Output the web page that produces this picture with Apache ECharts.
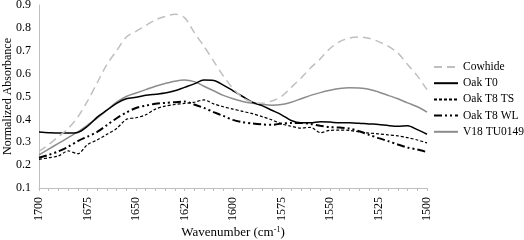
<!DOCTYPE html>
<html><head><meta charset="utf-8">
<script src="https://cdn.jsdelivr.net/npm/echarts@6/dist/echarts.min.js"></script>
<style>html,body{margin:0;padding:0;background:#fff}#c{width:524px;height:240px}</style>
</head><body><div id="c"></div>
<script>
var seriesNames = ['Cowhide', 'Oak T0', 'Oak T8 TS', 'Oak T8 WL', 'V18 TU0149'];
var xTicks = [1700, 1675, 1650, 1625, 1600, 1575, 1550, 1525, 1500];
var yTicks = [0.1, 0.2, 0.3, 0.4, 0.5, 0.6, 0.7, 0.8, 0.9];

var wavenumbers = [1700,1695,1690,1685,1680,1675,1670,1665,1660,1655,1650,1645,1640,1635,1630,1625,1620,1615,1610,1605,1600,1595,1590,1585,1580,1575,1570,1565,1560,1555,1550,1545,1540,1535,1530,1525,1520,1515,1510,1505,1500];

var cowhide = [0.26,0.29,0.325,0.36,0.41,0.48,0.56,0.64,0.70,0.76,0.785,0.81,0.835,0.85,0.86,0.845,0.78,0.72,0.655,0.59,0.535,0.495,0.475,0.47,0.48,0.50,0.54,0.58,0.625,0.665,0.71,0.74,0.755,0.76,0.755,0.74,0.72,0.69,0.64,0.59,0.53];
var oakT0 = [0.345,0.342,0.34,0.34,0.343,0.37,0.41,0.44,0.47,0.49,0.497,0.505,0.51,0.515,0.525,0.54,0.555,0.572,0.57,0.55,0.525,0.5,0.475,0.46,0.44,0.42,0.395,0.385,0.385,0.39,0.388,0.385,0.385,0.383,0.38,0.378,0.373,0.37,0.372,0.355,0.335];
var oakT8TS = [0.225,0.232,0.24,0.262,0.25,0.29,0.31,0.335,0.36,0.4,0.407,0.42,0.445,0.458,0.465,0.47,0.475,0.485,0.468,0.455,0.445,0.435,0.425,0.412,0.398,0.38,0.37,0.362,0.365,0.342,0.352,0.353,0.352,0.345,0.34,0.337,0.332,0.328,0.32,0.31,0.297];
var oakT8WL = [0.232,0.245,0.26,0.28,0.305,0.325,0.345,0.375,0.405,0.43,0.45,0.46,0.468,0.472,0.475,0.478,0.465,0.45,0.432,0.415,0.398,0.388,0.382,0.378,0.376,0.382,0.384,0.384,0.38,0.372,0.366,0.364,0.36,0.348,0.333,0.318,0.305,0.29,0.277,0.268,0.257];
var v18 = [0.245,0.27,0.295,0.32,0.345,0.375,0.405,0.44,0.475,0.5,0.515,0.53,0.545,0.557,0.567,0.572,0.565,0.545,0.525,0.505,0.49,0.478,0.47,0.465,0.462,0.465,0.475,0.49,0.505,0.517,0.527,0.535,0.538,0.537,0.532,0.52,0.505,0.49,0.472,0.455,0.432];

var values = [cowhide, oakT0, oakT8TS, oakT8WL, v18];
var styles = [
  {color:'#bfbfbf', width:1.5, type:[8,5]},
  {color:'#000000', width:1.5, type:'solid'},
  {color:'#000000', width:1.2, type:[3,2]},
  {color:'#000000', width:2, type:[8,3,2,3,2,3]},
  {color:'#8c8c8c', width:1.5, type:'solid'}
];
function pairs(arr){ return wavenumbers.map(function(w,i){ return [w, arr[i]]; }); }

var serif = '"Liberation Serif","Times New Roman",serif';
var chart = echarts.init(document.getElementById('c'));
chart.setOption({
  animation:false,
  textStyle:{fontFamily:serif},
  grid:{left:39, right:97, top:5, bottom:52, containLabel:false, outerBoundsMode:'none'},
  legend:{
    orient:'vertical', left:428, top:56, itemWidth:24, itemHeight:14, itemGap:4.2,
    itemStyle:{opacity:0},
    textStyle:{fontFamily:serif, fontSize:11.5, color:'#000'},
    data: seriesNames
  },
  xAxis:{
    type:'value', inverse:true, min:1500, max:1700, interval:25,
    axisLine:{show:true, lineStyle:{color:'#bfbfbf', width:1}},
    axisTick:{show:true, inside:false, length:3, lineStyle:{color:'#bfbfbf'}},
    minorTick:{show:true, splitNumber:5, length:3, lineStyle:{color:'#bfbfbf'}},
    splitLine:{show:false},
    axisLabel:{rotate:90, fontFamily:serif, fontSize:12, color:'#000', margin:9,
      customValues: xTicks, formatter:function(v){return String(v);}},
    name:'Wavenumber (cm{sup|-1})', nameLocation:'middle', nameGap:38, nameMoveOverlap:false,
    nameTextStyle:{fontFamily:serif, fontSize:13, color:'#000',
      rich:{sup:{fontFamily:serif, fontSize:8, color:'#000', padding:[0,0,6,0]}}}
  },
  yAxis:{
    type:'value', min:0.1, max:0.9, interval:0.1,
    axisLine:{show:true, lineStyle:{color:'#bfbfbf', width:1}},
    axisTick:{show:false},
    splitLine:{show:false},
    axisLabel:{fontFamily:serif, fontSize:12, color:'#000', margin:8,
      customValues: yTicks, formatter:function(v){return v.toFixed(1);}},
    name:'Normalized Absorbance', nameLocation:'middle', nameGap:25, nameMoveOverlap:false,
    nameTextStyle:{fontFamily:serif, fontSize:12, color:'#000'}
  },
  series: seriesNames.map(function(n,i){
    return {name:n, type:'line', data:pairs(values[i]), symbol:'none', showSymbol:false,
      smooth:0.3, lineStyle:styles[i], itemStyle:{color:styles[i].color}, z: 10 - i};
  })
});
</script></body></html>
